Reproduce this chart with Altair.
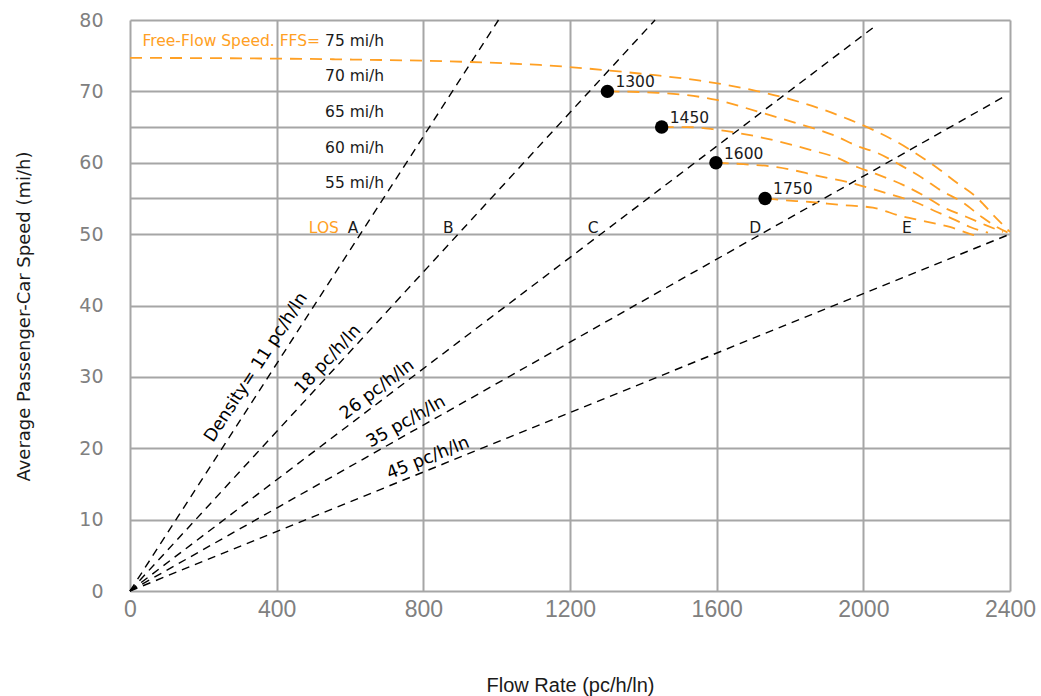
import altair as alt
import pandas as pd

# ---------------- data ----------------
flow_ticks = [0, 400, 800, 1200, 1600, 2000, 2400]
speed_ticks = [0, 10, 20, 30, 40, 50, 55, 60, 65, 70, 80]

ffs_values = [75, 70, 65, 60, 55]
ffs_text = ["75 mi/h", "70 mi/h", "65 mi/h", "60 mi/h", "55 mi/h"]

flow_75 = [0, 554, 1118, 1290, 1426, 1555, 1710, 1827, 1964, 2092, 2201, 2255, 2310, 2354, 2400]
speed_75 = [74.7, 74.5, 73.7, 73.0, 72.3, 71.5, 70.05, 68.5, 66.0, 62.9, 59.3, 57.2, 55.1, 52.7, 50.3]
flow_70 = [1302, 1440, 1600, 1710, 1808, 1917, 1991, 2037, 2100, 2160, 2209, 2272, 2323, 2364, 2395]
speed_70 = [70, 69.8, 68.8, 67.2, 65.7, 63.9, 62.2, 61.4, 59.7, 57.9, 56.2, 54.4, 52.4, 51.0, 50.2]
flow_65 = [1450, 1519, 1590, 1655, 1726, 1855, 1928, 1983, 2026, 2108, 2168, 2217, 2282, 2332, 2381]
speed_65 = [65, 65, 64.7, 64.2, 63.5, 61.8, 60.7, 59.4, 58.6, 56.9, 55.3, 53.8, 52.4, 51.3, 50.3]
flow_60 = [1600, 1672, 1764, 1882, 1964, 2026, 2078, 2141, 2201, 2250, 2291, 2340]
speed_60 = [60, 59.8, 59.4, 58.1, 57.2, 56.3, 55.5, 54.5, 53.1, 52.0, 51.0, 50.2]
flow_55 = [1735, 1773, 1855, 1936, 2026, 2105, 2168, 2236, 2299, 2320]
speed_55 = [55, 54.8, 54.5, 54.1, 53.7, 52.5, 51.8, 51.0, 49.9, 49.6]

density_labels = ["Density= 11 pc/h/ln", "18 pc/h/ln", "26 pc/h/ln", "35 pc/h/ln", "45 pc/h/ln"]
density_end_flow = [1005, 1432, 2026, 2392, 2400]
density_end_speed = [80, 80, 78.9, 69.5, 50]
density_label_flow = [344, 540, 674, 753, 813]
density_label_speed = [31.3, 32.4, 28.2, 23.7, 18.6]
density_label_angle = [303, 313, 323, 330.5, 338]

bp_flow = [1302, 1450, 1598, 1732]
bp_speed = [70, 65, 60, 55]
bp_label = ["1300", "1450", "1600", "1750"]

los_letters = ["A", "B", "C", "D", "E"]
los_flow = [608, 868, 1263, 1705, 2119]
los_speed = 50

ffs_label_flow = 532
ffs_prefix = "Free-Flow Speed. FFS="

# ---------------- styles ----------------
ORANGE = "#FFA024"
GRID = "#A6A6A6"
FONT = "DejaVu Sans"

# ---------------- tables ----------------
curves = pd.DataFrame(
    [{"ffs": f, "flow": x, "speed": y}
     for f, xs, ys in [(75, flow_75, speed_75), (70, flow_70, speed_70), (65, flow_65, speed_65),
                       (60, flow_60, speed_60), (55, flow_55, speed_55)]
     for x, y in zip(xs, ys)]
)

dens_rows = []
for i, lab in enumerate(density_labels):
    dens_rows.append({"line": i, "flow": 0, "speed": 0})
    dens_rows.append({"line": i, "flow": density_end_flow[i], "speed": density_end_speed[i]})
dens = pd.DataFrame(dens_rows)

dens_lab = pd.DataFrame({"flow": density_label_flow, "speed": density_label_speed,
                         "text": density_labels, "angle": density_label_angle})
bps = pd.DataFrame({"flow": bp_flow, "speed": bp_speed, "text": bp_label})
ffs_df = pd.DataFrame({"flow": [ffs_label_flow] * len(ffs_values), "speed": ffs_values, "text": ffs_text})
prefix_df = pd.DataFrame({"flow": [ffs_label_flow], "speed": [ffs_values[0]], "text": [ffs_prefix]})
los_df = pd.DataFrame({"flow": los_flow, "speed": [los_speed] * len(los_flow), "text": los_letters})
los_word = pd.DataFrame({"flow": [los_flow[0]], "speed": [los_speed], "text": ["LOS"]})

xs = alt.Scale(domain=[0, 2400], nice=False, zero=False)
ys = alt.Scale(domain=[0, 80], nice=False, zero=False)

X = alt.X("flow:Q", scale=xs, axis=alt.Axis(
    values=flow_ticks, format="d", grid=True, gridColor=GRID, gridWidth=2, domain=False, ticks=False,
    labelFont="Liberation Sans", labelFontSize=23, labelColor="#808080", labelPadding=7,
    labelFlush=False, labelOverlap=False,
    title="Flow Rate (pc/h/ln)", titleFont="Liberation Sans", titleFontSize=20,
    titleFontWeight="normal", titleColor="#1a1a1a", titleY=94, titleBaseline="middle"))
Y = alt.Y("speed:Q", scale=ys, axis=alt.Axis(
    values=speed_ticks, grid=True, gridColor=GRID, gridWidth=2, domain=False, ticks=False,
    labelExpr="datum.value % 10 == 0 ? datum.label : ''",
    labelFont=FONT, labelFontSize=19, labelColor="#808080", labelPadding=27,
    labelFlush=False, labelOverlap=False,
    title="Average Passenger-Car Speed (mi/h)", titleFont=FONT, titleFontSize=18,
    titleFontWeight="normal", titleColor="#1a1a1a", titleX=-106, titleY=296,
    titleAngle=270, titleAlign="center", titleBaseline="middle"))

density_lines = alt.Chart(dens).mark_line(color="black", strokeWidth=1.4, strokeDash=[8, 6]).encode(
    x=X, y=Y, detail="line:N")

speed_curves = alt.Chart(curves).mark_line(color=ORANGE, strokeWidth=1.8, strokeDash=[12, 8],
                                            interpolate="monotone").encode(
    x=X, y=Y, detail="ffs:N")

dots = alt.Chart(bps).mark_circle(size=180, color="black", opacity=1).encode(x=X, y=Y)
dot_text = alt.Chart(bps).mark_text(align="left", baseline="middle", dx=8, dy=-9, font=FONT,
                                    fontSize=15.5, color="#1a1a1a").encode(x=X, y=Y, text="text:N")

dens_text = alt.Chart(dens_lab).mark_text(align="center", baseline="middle", font=FONT,
                                          fontSize=17.5, color="black").encode(
    x=X, y=Y, text="text:N", angle=alt.Angle("angle:Q", scale=None))

ffs_text_layer = alt.Chart(ffs_df).mark_text(align="left", baseline="middle", dy=-15, font=FONT,
                                             fontSize=15.5, color="#1a1a1a").encode(x=X, y=Y, text="text:N")
prefix_layer = alt.Chart(prefix_df).mark_text(align="right", baseline="middle", dx=-5, dy=-15, font=FONT,
                                              fontSize=15.5, color=ORANGE).encode(x=X, y=Y, text="text:N")
los_layer = alt.Chart(los_df).mark_text(align="center", baseline="middle", dy=-6, font=FONT,
                                        fontSize=15.5, color="#1a1a1a").encode(x=X, y=Y, text="text:N")
los_word_layer = alt.Chart(los_word).mark_text(align="right", baseline="middle", dx=-14, dy=-6, font=FONT,
                                               fontSize=15.5, color=ORANGE).encode(x=X, y=Y, text="text:N")

chart = alt.layer(
    density_lines, speed_curves, dots, dot_text, dens_text,
    ffs_text_layer, prefix_layer, los_layer, los_word_layer
).properties(
    width=880, height=571,
    autosize=alt.AutoSizeParams(type="none"),
    padding={"left": 130, "top": 20, "right": 31, "bottom": 105},
    background="white",
).configure_view(stroke=None)

chart.save("out.html", embed_options={"renderer": "svg", "actions": False})
